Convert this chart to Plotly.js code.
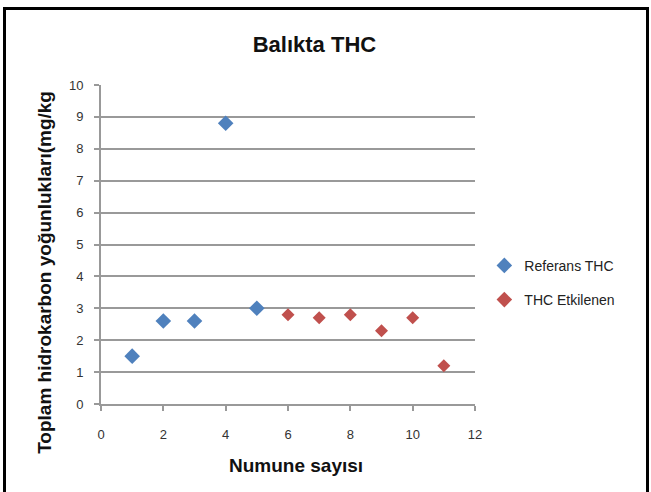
<!DOCTYPE html>
<html><head><meta charset="utf-8">
<script src="https://cdn.plot.ly/plotly-3.0.1.min.js"></script>
<style>
html,body{margin:0;padding:0;background:#fff;}
#wrap{position:relative;width:651px;height:492px;}
#frame{position:absolute;left:3px;top:7px;width:646px;height:490px;border-left:3px solid #000;border-top:3px solid #000;border-right:3px solid #000;box-sizing:border-box;pointer-events:none;}
</style></head>
<body><div id="wrap"><div id="chart" style="width:651px;height:492px;"></div><div id="frame"></div></div>
<script>
var refX = [1, 2, 3, 4, 5];
var refY = [1.5, 2.6, 2.6, 8.8, 3.0];
var etkX = [6, 7, 8, 9, 10, 11];
var etkY = [2.8, 2.7, 2.8, 2.3, 2.7, 1.2];
var seriesNames = ["Referans THC", "THC Etkilenen"];
var titleText = "Balıkta THC";
var xTitle = "Numune sayısı";
var yTitle = "Toplam hidrokarbon yoğunlukları(mg/kg";

var traces = [
  {x: refX, y: refY, name: seriesNames[0], legendgroup: 'a', type: 'scatter', mode: 'markers',
   marker: {symbol: 'diamond', size: 12, color: '#4F81BD'}},
  {x: etkX, y: etkY, name: seriesNames[1], legendgroup: 'b', type: 'scatter', mode: 'markers',
   marker: {symbol: 'diamond', size: 10, color: '#C0504D'}}
];
var layout = {
  width: 651, height: 492,
  margin: {l: 101, r: 176, t: 85, b: 88},
  paper_bgcolor: '#fff', plot_bgcolor: '#fff',
  font: {family: 'Liberation Sans, Arial, sans-serif', color: '#333'},
  title: {text: '<b>' + titleText + '</b>', font: {size: 22, color: '#111'},
    x: 0.483, xref: 'container', y: 0.91, yref: 'container', yanchor: 'middle'},
  xaxis: {range: [0, 12], dtick: 2, tick0: 0, showgrid: false, zeroline: false,
    showline: true, linecolor: '#999', linewidth: 2, ticks: 'outside', ticklen: 5, tickcolor: '#999', tickwidth: 2,
    ticklabelstandoff: 12,
    tickfont: {size: 13, color: '#333'}},
  yaxis: {range: [0, 10], dtick: 1, tick0: 0, showgrid: true, gridcolor: '#999', gridwidth: 2, zeroline: false,
    showline: true, linecolor: '#999', linewidth: 2, ticks: 'outside', ticklen: 5, tickcolor: '#999', tickwidth: 2,
    ticklabelstandoff: 8,
    tickfont: {size: 13, color: '#333'}},
  annotations: [
    {text: '<b>' + xTitle + '</b>', xref: 'paper', yref: 'paper', x: 0.521, y: -0.194, xanchor: 'center', yanchor: 'middle',
     showarrow: false, font: {size: 19, color: '#111'}},
    {text: '<b>' + yTitle + '</b>', xref: 'paper', yref: 'paper', x: -0.15, y: 0.414, xanchor: 'center', yanchor: 'middle',
     textangle: -90, showarrow: false, font: {size: 19, color: '#111'}}
  ],
  showlegend: true,
  legend: {x: 1.025, xref: 'paper', xanchor: 'left', y: 0.38, yanchor: 'middle', font: {size: 14, color: '#222'},
    tracegroupgap: 13, itemsizing: 'constant', itemwidth: 30, bgcolor: 'rgba(0,0,0,0)'}
};
Plotly.newPlot('chart', traces, layout, {displayModeBar: false, staticPlot: true});
</script></body></html>
